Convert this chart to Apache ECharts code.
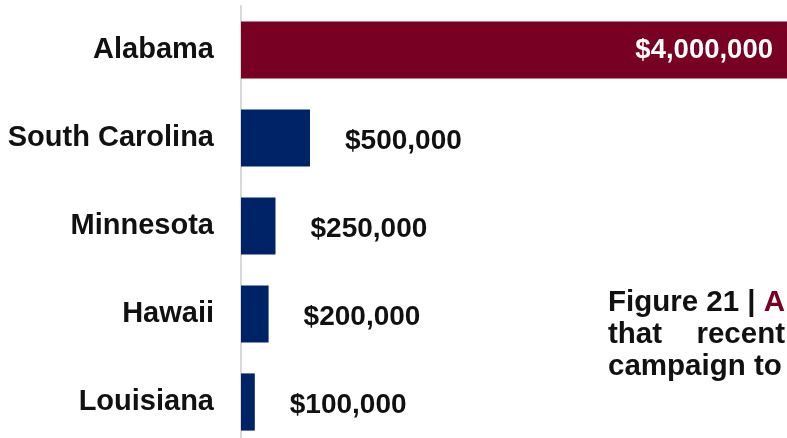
<!DOCTYPE html>
<html>
<head>
<meta charset="utf-8">
<script src="https://cdn.jsdelivr.net/npm/echarts@6/dist/echarts.min.js"></script>
<style>
  html, body { margin: 0; padding: 0; background: #ffffff; }
  #chart { width: 787px; height: 438px; }
</style>
</head>
<body>
<div id="chart"></div>
<script>
// Funding by state
const states = ['Alabama', 'South Carolina', 'Minnesota', 'Hawaii', 'Louisiana'];
const amounts = [4000000, 500000, 250000, 200000, 100000];

const MAROON = '#770023';
const NAVY = '#002266';
const INK = '#111111';
const FONT = '"Liberation Sans", Arial, sans-serif';

function money(v) {
  return '$' + v.toLocaleString('en-US');
}

const barData = amounts.map(function (v, i) {
  const top = i === 0;
  return {
    value: v,
    itemStyle: { color: top ? MAROON : NAVY },
    label: top
      ? { position: 'insideRight', distance: 20, color: '#ffffff', fontSize: 27.5, offset: [0, 0] }
      : { position: 'right', distance: 35, color: INK, fontSize: 28, offset: [0, 3] }
  };
});

const chart = echarts.init(document.getElementById('chart'), null, { renderer: 'canvas' });
chart.setOption({
  animation: false,
  backgroundColor: '#ffffff',
  // plot runs slightly past the right and bottom edges of the canvas
  grid: {
    left: 241, top: 6, width: 552, height: 440,
    containLabel: false,
    outerBoundsMode: 'none'
  },
  xAxis: {
    type: 'value',
    min: 0,
    max: 4000000,
    show: false
  },
  yAxis: {
    type: 'category',
    data: states,
    inverse: true,
    axisLine: { show: true, lineStyle: { color: '#d9d9d9', width: 2 } },
    axisTick: { show: false },
    splitLine: { show: false },
    axisLabel: {
      margin: 27,
      color: INK,
      fontSize: 29,
      fontWeight: 'bold',
      fontFamily: FONT
    }
  },
  series: [{
    type: 'bar',
    data: barData,
    barCategoryGap: '35%',
    label: {
      show: true,
      fontWeight: 'bold',
      fontFamily: FONT,
      formatter: function (p) { return money(p.value); }
    }
  }],
  graphic: [
    {
      type: 'text', left: 608, top: 288,
      style: {
        text: '{k|Figure 21 | }{m|A}',
        rich: {
          k: { fontSize: 29.5, fontWeight: 'bold', fontFamily: FONT, fill: INK },
          m: { fontSize: 29.5, fontWeight: 'bold', fontFamily: FONT, fill: MAROON }
        }
      }
    },
    {
      type: 'text', left: 608, top: 320,
      style: { text: 'that', fontSize: 29.5, fontWeight: 'bold', fontFamily: FONT, fill: INK }
    },
    {
      type: 'text', right: 2, top: 320,
      style: { text: 'recent', fontSize: 29.5, fontWeight: 'bold', fontFamily: FONT, fill: INK }
    },
    {
      type: 'text', left: 608, top: 352,
      style: { text: 'campaign to', fontSize: 29.5, fontWeight: 'bold', fontFamily: FONT, fill: INK }
    }
  ]
});
</script>
</body>
</html>
